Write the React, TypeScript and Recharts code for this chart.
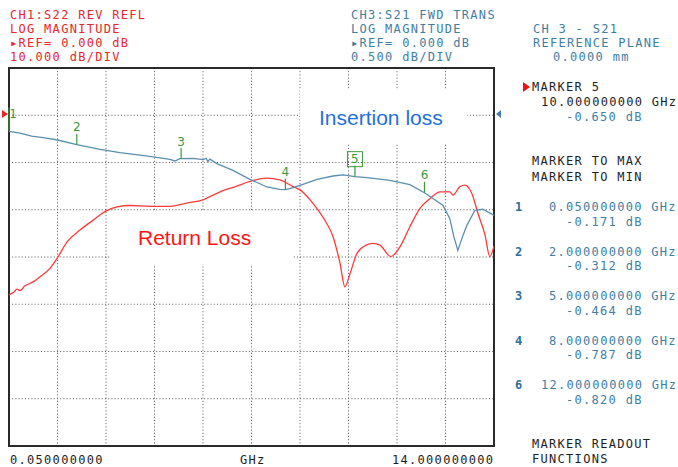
import {
  ComposedChart,
  Line,
  XAxis,
  YAxis,
  CartesianGrid,
  ReferenceDot,
  ReferenceArea,
} from "recharts";

// S21 forward transmission (insertion loss), GHz / dB
const s21Freq = [
  0.05, 0.37, 0.7, 1.085, 1.45, 2.0, 2.67, 3.24, 4.1, 4.68, 4.82, 4.97, 5.34,
  5.63, 5.72, 5.77, 5.83, 6.03, 6.49, 6.98, 7.47, 7.84, 8.0, 8.13, 8.42, 8.91,
  9.37, 9.66, 10.0, 10.35, 11.01, 11.58, 12.0, 12.53, 12.73, 12.84, 12.96,
  13.08, 13.22, 13.45, 13.68, 14.0,
];
const s21Db = [
  -0.171, -0.19, -0.22, -0.24, -0.262, -0.312, -0.361, -0.396, -0.435, -0.466,
  -0.484, -0.46, -0.456, -0.47, -0.455, -0.49, -0.465, -0.512, -0.583, -0.678,
  -0.759, -0.784, -0.787, -0.777, -0.742, -0.678, -0.643, -0.632, -0.65, -0.66,
  -0.689, -0.735, -0.82, -0.953, -1.095, -1.28, -1.43, -1.3, -1.165, -1.006,
  -0.995, -1.06,
];

// S22 reverse reflection (return loss), GHz / dB
const s22Freq = [
  0.05, 0.19, 0.28, 0.37, 0.51, 0.65, 0.8, 0.94, 1.23, 1.45, 1.72, 2.09, 2.47,
  2.86, 3.16, 3.53, 4.1, 4.68, 5.16, 5.63, 6.12, 6.6, 6.98, 7.46, 7.84, 8.22,
  8.42, 8.71, 8.94, 9.19, 9.37, 9.57, 9.71, 9.86, 10.06, 10.32, 10.52, 10.72,
  11.03, 11.3, 11.58, 11.87, 12.16, 12.45, 12.73, 12.82, 13.02, 13.16, 13.36,
  13.54, 13.74, 13.88, 14.0,
];
const s22Db = [
  -38.0, -37.4, -36.8, -37.1, -36.1, -35.6, -35.0, -34.2, -32.4, -30.1, -26.8,
  -24.3, -22.2, -20.2, -19.4, -19.1, -19.3, -19.3, -18.6, -17.9, -16.2, -15.0,
  -14.0, -13.3, -13.7, -15.1, -15.8, -17.9, -20.1, -22.9, -25.7, -31.3, -36.3,
  -33.5, -29.2, -27.5, -27.1, -27.5, -29.9, -27.8, -23.6, -19.7, -17.6, -16.2,
  -16.2, -16.9, -15.1, -14.8, -16.5, -20.8, -25.3, -29.9, -27.7,
];

const markerFreq = [0.05, 2, 5, 8, 10, 12];
const markerDb = [-0.171, -0.312, -0.464, -0.787, -0.65, -0.82];
const markerNames = ["1", "2", "3", "4", "5", "6"];
const activeMarker = "5";

const xGridTicks = [
  0.05, 1.445, 2.84, 4.235, 5.63, 7.025, 8.42, 9.815, 11.21, 12.605, 14,
];
const s22Ticks = [10, 0, -10, -20, -30, -40, -50, -60, -70];
const s21Ticks = [0.5, 0, -0.5, -1, -1.5, -2, -2.5, -3, -3.5];

const s21Data = s21Freq.map((f, i) => ({ f, db: s21Db[i] }));
const s22Data = s22Freq.map((f, i) => ({ f, db: s22Db[i] }));

const MONO = "'DejaVu Sans Mono', monospace";
const RED = "#e8252b";
const BLUE = "#3f7ea3";
const INK = "#1e1e1e";
const GREEN = "#3a9a3a";

function T({ x, y, children, fill = INK, weight = "normal" }: any) {
  return (
    <text
      x={x}
      y={y}
      fill={fill}
      fontFamily={MONO}
      fontSize={12}
      letterSpacing={1.3}
      fontWeight={weight}
      dominantBaseline="central"
    >
      {children}
    </text>
  );
}

function MarkerFlag(props: any) {
  const { cx, cy, name } = props;
  if (cx == null || cy == null) return null;
  const first = name === "1";
  const boxed = name === activeMarker;
  const lx = first ? cx + 4 : cx;
  return (
    <g>
      <line x1={cx} y1={first ? cy - 24 : cy - 11} x2={cx} y2={cy} stroke={GREEN} strokeWidth={1.2} />
      {boxed && (
        <rect x={lx - 7.5} y={cy - 25} width={15} height={15} fill="none" stroke={GREEN} strokeWidth={1} />
      )}
      <text
        x={lx}
        y={cy - 17.5}
        fill={GREEN}
        fontFamily="'DejaVu Sans', sans-serif"
        fontSize={12}
        textAnchor="middle"
        dominantBaseline="central"
      >
        {name}
      </text>
    </g>
  );
}

export default function App() {
  const listIdx = markerNames
    .map((n, i) => i)
    .filter((i) => markerNames[i] !== activeMarker);
  const ai = markerNames.indexOf(activeMarker);

  return (
    <div style={{ position: "absolute", left: 0, top: 0, width: 678, height: 467, background: "#fff" }}>
      <ComposedChart
        width={678}
        height={467}
        margin={{ top: 68, right: 184, bottom: 21, left: 9 }}
      >
        <XAxis
          dataKey="f"
          type="number"
          domain={[0.05, 14]}
          ticks={xGridTicks}
          allowDuplicatedCategory={false}
          hide
        />
        <YAxis yAxisId="s22" type="number" domain={[-70, 10]} ticks={s22Ticks} hide />
        <YAxis yAxisId="s21" orientation="right" type="number" domain={[-3.5, 0.5]} ticks={s21Ticks} hide />
        <CartesianGrid yAxisId="s22" stroke="#555" strokeDasharray="1 2.2" strokeWidth={1} />
        <ReferenceArea
          yAxisId="s22"
          x1={0.05}
          x2={14}
          y1={-70}
          y2={10}
          fill="none"
          stroke="#2a2a2a"
          strokeWidth={2}
          ifOverflow="visible"
        />
        <Line
          data={s22Data}
          yAxisId="s22"
          dataKey="db"
          type="monotone"
          stroke="#ff3a3a"
          strokeWidth={1.3}
          dot={false}
          isAnimationActive={false}
        />
        <Line
          data={s21Data}
          yAxisId="s21"
          dataKey="db"
          type="linear"
          stroke="#5b8fae"
          strokeWidth={1.3}
          dot={false}
          isAnimationActive={false}
        />
        {markerFreq.map((f, i) => (
          <ReferenceDot
            key={markerNames[i]}
            yAxisId="s21"
            x={f}
            y={markerDb[i]}
            ifOverflow="visible"
            shape={(p: any) => <MarkerFlag {...p} name={markerNames[i]} />}
          />
        ))}
      </ComposedChart>

      <svg
        width={678}
        height={467}
        style={{ position: "absolute", left: 0, top: 0, pointerEvents: "none" }}
      >
        {/* annotation boxes hide the grid behind them */}
        <rect x={300} y={90} width={167} height={53} fill="#fff" />
        <rect x={110} y={212} width={182} height={52} fill="#fff" />
        <text x={319} y={117} fill="#1f6fe0" fontFamily="'Liberation Sans', Arial, sans-serif" fontSize={21} dominantBaseline="central">
          Insertion loss
        </text>
        <text x={138} y={237} fill="#ff1414" fontFamily="'Liberation Sans', Arial, sans-serif" fontSize={21} dominantBaseline="central">
          Return Loss
        </text>

        {/* reference level pointers */}
        <polygon points="2,110 8,114 2,118" fill={RED} />
        <polygon points="496,114 501,110 501,118" fill={BLUE} />

        {/* channel 1 header */}
        <T x={10} y={15} fill={RED}>CH1:S22 REV REFL</T>
        <T x={10} y={29} fill={RED}>LOG MAGNITUDE</T>
        <T x={10} y={43} fill={RED}>▸REF= 0.000 dB</T>
        <T x={10} y={57} fill={RED}>10.000 dB/DIV</T>

        {/* channel 3 header */}
        <T x={351} y={15} fill={BLUE}>CH3:S21 FWD TRANS</T>
        <T x={351} y={29} fill={BLUE}>LOG MAGNITUDE</T>
        <T x={351} y={43} fill={BLUE}>▸REF= 0.000 dB</T>
        <T x={351} y={57} fill={BLUE}>0.500 dB/DIV</T>

        <T x={533} y={29} fill={BLUE}>CH 3 - S21</T>
        <T x={533} y={43} fill={BLUE}>REFERENCE PLANE</T>
        <T x={553} y={57} fill={BLUE}>0.0000 mm</T>

        {/* active marker */}
        <polygon points="523,82 530,87 523,92" fill="#ee1111" />
        <T x={532} y={87}>MARKER {activeMarker}</T>
        <T x={541} y={102}>{markerFreq[ai].toFixed(9).padStart(12, " ")} GHz</T>
        <T x={566} y={117} fill={BLUE}>{markerDb[ai].toFixed(3)} dB</T>

        <T x={532} y={161}>MARKER TO MAX</T>
        <T x={532} y={177}>MARKER TO MIN</T>

        {listIdx.map((i, k) => {
          const y = 207 + k * 44.5;
          const fs = markerFreq[i].toFixed(9);
          return (
            <g key={markerNames[i]}>
              <T x={515} y={y} fill="#2f6f99" weight="bold">{markerNames[i]}</T>
              <T x={fs.length > 11 ? 541 : 549} y={y} fill={BLUE}>{fs} GHz</T>
              <T x={566} y={y + 14.5} fill={BLUE}>{markerDb[i].toFixed(3)} dB</T>
            </g>
          );
        })}

        <T x={532} y={444}>MARKER READOUT</T>
        <T x={532} y={459}>FUNCTIONS</T>

        {/* stimulus */}
        <T x={10} y={460}>0.050000000</T>
        <T x={240} y={460}>GHz</T>
        <T x={392} y={460}>14.000000000</T>
      </svg>
    </div>
  );
}
